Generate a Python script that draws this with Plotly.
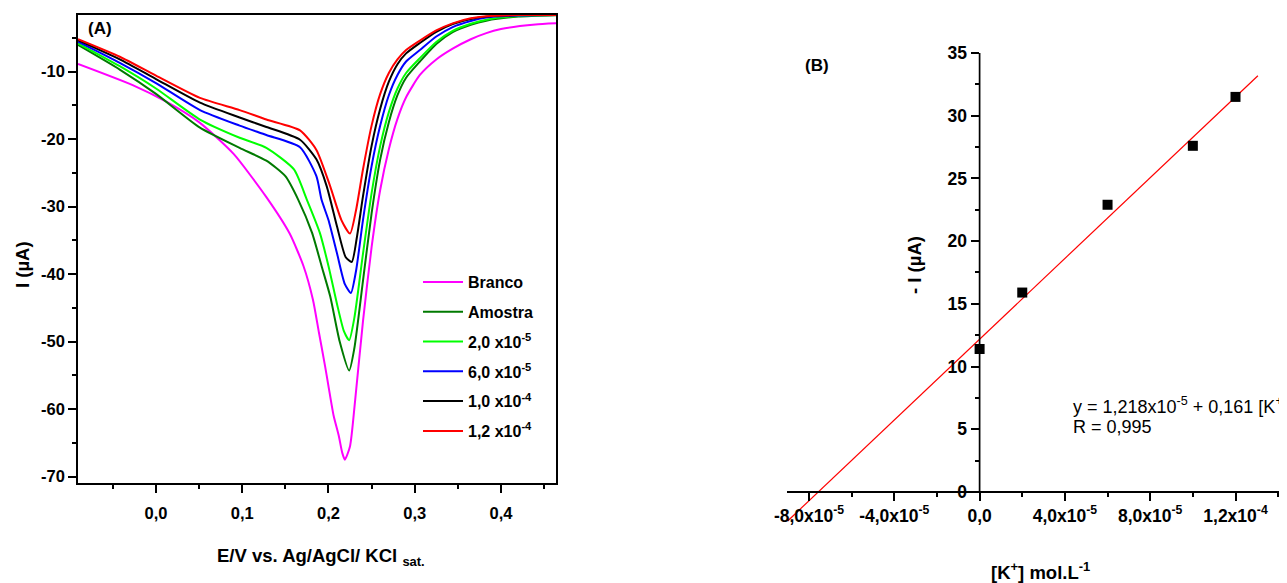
import plotly.graph_objects as go

FONT = "Liberation Sans, Arial, sans-serif"
W, H = 1287, 583
OFF = 8                      # page body margin of the browser
FW, FH = W - OFF, H - OFF    # figure size so that it fills the window

# ---------------- Panel A data (E / V, I / uA) ----------------
series_names = ["Branco", "Amostra", "2,0 x10<sup>-5</sup>", "6,0 x10<sup>-5</sup>",
                "1,0 x10<sup>-4</sup>", "1,2 x10<sup>-4</sup>"]
series_colors = ["#ff00ff", "#007a00", "#00ff00", "#0000ff", "#000000", "#ff0000"]

branco_x = [-0.0904, -0.027, 0.0125, 0.051, 0.09, 0.128, 0.155, 0.171, 0.182, 0.189, 0.196, 0.2,
            0.206, 0.212, 0.216, 0.219, 0.225, 0.231, 0.24, 0.25, 0.26, 0.27, 0.28, 0.29, 0.306,
            0.325, 0.344, 0.365, 0.383, 0.40, 0.422, 0.44, 0.464]
branco_y = [-8.86, -12.0, -14.5, -17.6, -22.2, -28.6, -34.0, -38.8, -43.8, -48.7, -53.6, -56.6,
            -61.0, -64.0, -66.5, -67.5, -65.5, -58.6, -47.0, -36.0, -27.5, -21.5, -17.0, -13.8, -10.5,
            -8.2, -6.6, -5.2, -4.3, -3.7, -3.24, -3.0, -2.84]

amostra_x = [-0.0904, -0.042, 0.0, 0.051, 0.097, 0.128, 0.15, 0.165, 0.181, 0.192, 0.202, 0.213,
             0.224, 0.23, 0.24, 0.25, 0.26, 0.27, 0.28, 0.29, 0.306, 0.325, 0.344, 0.365, 0.383,
             0.42, 0.464]
amostra_y = [-6.05, -9.7, -13.3, -18.3, -21.3, -23.2, -25.5, -29.0, -33.9, -38.8, -43.3, -50.0,
             -54.3, -51.0, -41.0, -31.0, -23.0, -17.5, -13.5, -10.9, -8.5, -5.9, -4.15, -3.05, -2.45,
             -1.85, -1.65]

c20_x = [-0.0904, -0.042, 0.0, 0.051, 0.097, 0.128, 0.16, 0.175, 0.19, 0.2, 0.21, 0.218, 0.224,
         0.23, 0.24, 0.25, 0.26, 0.27, 0.28, 0.29, 0.306, 0.325, 0.344, 0.365, 0.383, 0.42, 0.464]
c20_y = [-5.8, -9.2, -12.5, -17.1, -19.8, -21.3, -24.5, -29.0, -33.9, -38.8, -44.5, -48.5, -49.8,
         -46.5, -37.0, -28.0, -21.0, -16.0, -12.5, -10.2, -8.0, -5.6, -3.95, -2.9, -2.3, -1.75, -1.62]

c60_x = [-0.0904, -0.042, 0.0, 0.051, 0.097, 0.128, 0.167, 0.186, 0.192, 0.2, 0.21, 0.219, 0.226,
         0.232, 0.24, 0.25, 0.26, 0.27, 0.28, 0.29, 0.306, 0.325, 0.344, 0.365, 0.383, 0.42, 0.464]
c60_y = [-5.56, -8.7, -11.7, -15.7, -18.0, -19.4, -21.2, -25.5, -29.0, -32.0, -37.0, -41.5, -42.8,
         -39.5, -32.0, -24.0, -18.0, -13.5, -10.5, -8.5, -6.8, -4.8, -3.4, -2.5, -2.0, -1.68, -1.6]

c100_x = [-0.0904, -0.042, 0.0, 0.051, 0.097, 0.128, 0.167, 0.186, 0.198, 0.21, 0.22, 0.227,
          0.233, 0.24, 0.25, 0.26, 0.27, 0.28, 0.29, 0.306, 0.325, 0.344, 0.365, 0.383, 0.42, 0.464]
c100_y = [-5.35, -8.2, -11.1, -14.6, -16.8, -18.2, -20.1, -23.0, -27.0, -33.0, -37.5, -38.2,
          -34.5, -28.5, -21.0, -15.5, -11.5, -8.9, -7.3, -5.75, -4.1, -2.95, -2.2, -1.85, -1.62, -1.6]

c120_x = [-0.0904, -0.042, 0.0, 0.051, 0.097, 0.128, 0.167, 0.186, 0.202, 0.215, 0.225, 0.232,
          0.24, 0.25, 0.26, 0.27, 0.28, 0.29, 0.306, 0.325, 0.344, 0.365, 0.383, 0.42, 0.464]
c120_y = [-5.2, -7.8, -10.6, -13.9, -15.7, -17.1, -18.7, -21.6, -27.0, -32.0, -34.0, -30.5,
          -24.5, -18.0, -13.3, -10.2, -8.2, -6.8, -5.4, -3.9, -2.85, -2.1, -1.8, -1.62, -1.6]

curves_x = [branco_x, amostra_x, c20_x, c60_x, c100_x, c120_x]
curves_y = [branco_y, amostra_y, c20_y, c60_y, c100_y, c120_y]

a_xtick_vals = [0.0, 0.1, 0.2, 0.3, 0.4]
a_xtick_text = ["0,0", "0,1", "0,2", "0,3", "0,4"]
a_ytick_vals = [-10, -20, -30, -40, -50, -60, -70]
a_ytick_text = ["-10", "-20", "-30", "-40", "-50", "-60", "-70"]

# ---------------- Panel B data ([K+] mol/L, -I / uA) ----------------
conc = [0.0, 2.0e-5, 6.0e-5, 1.0e-4, 1.2e-4]
neg_current = [11.4, 15.9, 22.9, 27.6, 31.5]
fit_intercept = 12.18
fit_slope = 1.61e5
fit_x = [-9.0e-5, 1.305e-4]

b_xtick_vals = [-8e-5, -4e-5, 0.0, 4e-5, 8e-5, 1.2e-4]
b_xtick_text = ["-8,0x10<sup>-5</sup>", "-4,0x10<sup>-5</sup>", "0,0",
                "4,0x10<sup>-5</sup>", "8,0x10<sup>-5</sup>", "1,2x10<sup>-4</sup>"]
b_ytick_vals = [0, 5, 10, 15, 20, 25, 30, 35]
b_ytick_text = ["0", "5", "10", "15", "20", "25", "30", "35"]


def bold(labels):
    return ["<b>" + t + "</b>" for t in labels]


fig = go.Figure()

for name, col, xs, ys in zip(series_names, series_colors, curves_x, curves_y):
    fig.add_trace(go.Scatter(x=xs, y=ys, mode="lines", name="<b>" + name + "</b>",
                             line=dict(color=col, width=2, shape="spline", smoothing=0.6),
                             legendgroup=name, xaxis="x", yaxis="y"))

fit_y = [fit_intercept + fit_slope * v for v in fit_x]
fig.add_trace(go.Scatter(x=fit_x, y=fit_y, mode="lines", line=dict(color="#ff0000", width=1.2),
                         showlegend=False, xaxis="x2", yaxis="y2"))
fig.add_trace(go.Scatter(x=conc, y=neg_current, mode="markers",
                         marker=dict(symbol="square", size=10, color="black"),
                         showlegend=False, xaxis="x2", yaxis="y2", cliponaxis=False))


def px_x(p):
    return (p - OFF) / FW


def px_y(p):
    return 1 - (p - OFF) / FH


tickfont_a = dict(family=FONT, size=16.5, color="black", weight=700)
tickfont_b = dict(family=FONT, size=17.5, color="black", weight=700)

fig.update_layout(
    width=FW, height=FH, template="none",
    margin=dict(l=0, r=0, t=0, b=0),
    paper_bgcolor="white", plot_bgcolor="white",
    font=dict(family=FONT, color="black"),
    xaxis=dict(domain=[px_x(78), px_x(556)], range=[-0.0904, 0.4638], anchor="y",
               showline=True, mirror=True, linecolor="black", linewidth=1.7,
               showgrid=False, zeroline=False, ticks="outside", ticklen=8, tickwidth=1.5,
               tickcolor="black", tickmode="array", tickvals=a_xtick_vals,
               ticktext=bold(a_xtick_text), tickfont=tickfont_a, ticklabelstandoff=6,
               minor=dict(ticks="outside", ticklen=4, tickwidth=1.5, tickcolor="black",
                          dtick=0.05, tick0=0, showgrid=False)),
    yaxis=dict(domain=[px_y(483), px_y(15)], range=[-70.96, -1.61], anchor="x",
               showline=True, mirror=True, linecolor="black", linewidth=1.7,
               showgrid=False, zeroline=False, ticks="outside", ticklen=8, tickwidth=1.5,
               tickcolor="black", tickmode="array", tickvals=a_ytick_vals,
               ticktext=bold(a_ytick_text), tickfont=tickfont_a,
               minor=dict(ticks="outside", ticklen=4, tickwidth=1.5, tickcolor="black",
                          dtick=5, tick0=0, showgrid=False)),
    xaxis2=dict(domain=[px_x(787), 1.0], range=[-9.032e-5, 1.4415e-4], anchor="free",
                position=px_y(492), showline=True, linecolor="black", linewidth=1.7,
                showgrid=False, zeroline=False, ticks="outside", ticklen=8, tickwidth=1.5,
                tickcolor="black", tickmode="array", tickvals=b_xtick_vals,
                ticktext=bold(b_xtick_text), tickfont=tickfont_b,
                minor=dict(ticks="outside", ticklen=4, tickwidth=1.5, tickcolor="black",
                           dtick=2e-5, tick0=0, showgrid=False)),
    yaxis2=dict(domain=[px_y(522.7), px_y(53)], range=[-2.45, 35.0], anchor="free",
                position=px_x(978.5), showline=False,
                showgrid=False, zeroline=False, ticks="outside", ticklen=8, tickwidth=1.5,
                tickcolor="black", tickmode="array", tickvals=b_ytick_vals,
                ticktext=bold(b_ytick_text), tickfont=tickfont_b,
                minor=dict(ticks="outside", ticklen=4, tickwidth=1.5, tickcolor="black",
                           dtick=2.5, tick0=0, showgrid=False)),
    legend=dict(x=px_x(418), y=px_y(265), xanchor="left", yanchor="top",
                bgcolor="rgba(0,0,0,0)", font=dict(family=FONT, size=16, color="black"),
                tracegroupgap=6, itemwidth=40),
    showlegend=True,
)

# y axis line of panel B from 0 to 35
fig.add_shape(type="line", xref="x2", yref="y2", x0=0, x1=0, y0=b_ytick_vals[0],
              y1=b_ytick_vals[-1], line=dict(color="black", width=1.7))

ann = [
    dict(text="<b>(A)</b>", x=px_x(86), y=px_y(29), xanchor="left", yanchor="middle", size=17),
    dict(text="<b>(B)</b>", x=px_x(803), y=px_y(65), xanchor="left", yanchor="middle", size=17),
    dict(text="<b>E/V vs. Ag/AgCl/ KCl <sub>sat.</sub></b>", x=px_x(215), y=px_y(557),
         xanchor="left", yanchor="middle", size=18.5),
    dict(text="<b>I (µA)</b>", x=px_x(22), y=px_y(265), xanchor="center", yanchor="middle",
         size=18.5, angle=-90),
    dict(text="<b>- I (µA)</b>", x=px_x(914), y=px_y(265), xanchor="center", yanchor="middle",
         size=18.5, angle=-90),
    dict(text="<b>[K<sup>+</sup>] mol.L<sup>-1</sup></b>", x=px_x(1040), y=px_y(571),
         xanchor="center", yanchor="middle", size=18.5),
    dict(text="y = 1,218x10<sup>-5</sup> + 0,161 [K<sup>+</sup>]", x=px_x(1071), y=px_y(405),
         xanchor="left", yanchor="middle", size=18),
    dict(text="R = 0,995", x=px_x(1071), y=px_y(427), xanchor="left", yanchor="middle", size=18),
]
for a in ann:
    fig.add_annotation(text=a["text"], x=a["x"], y=a["y"], xref="paper", yref="paper",
                       xanchor=a["xanchor"], yanchor=a["yanchor"], showarrow=False,
                       textangle=a.get("angle", 0),
                       font=dict(family=FONT, size=a["size"], color="black"))

fig.write_html("out.html")
